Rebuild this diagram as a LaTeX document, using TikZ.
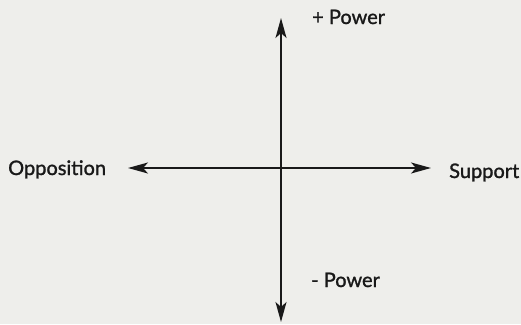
\documentclass[tikz,border=0pt]{standalone}
\usepackage{fontspec}
\setmainfont{Lato}
\newfontfamily\lblfont{Lato}[FakeBold=1.3]
\usetikzlibrary{arrows.meta}
\definecolor{bg}{RGB}{238,238,235}
\definecolor{ink}{RGB}{25,25,25}
\begin{document}
\begin{tikzpicture}[x=1pt,y=-1pt,
  axis/.style={draw=ink,line width=1.8pt,{Stealth[length=20pt,width=11pt,inset=5pt]}-{Stealth[length=20pt,width=11pt,inset=5pt]}},
  lbl/.style={inner sep=0pt,anchor=base west,text=ink,font=\lblfont\fontsize{20}{24}\selectfont}]
\fill[bg] (0,0) rectangle (521,324);
\useasboundingbox (0,0) rectangle (521,324);
\coordinate (top) at (281,18);
\coordinate (bot) at (281,322);
\coordinate (lft) at (128,168);
\coordinate (rgt) at (431,168);
\draw[axis] (lft) -- (rgt);
\draw[axis] (top) -- (bot);
\node[lbl] (pp) at (312,24) {+ Power};
\node[lbl] (mp) at (311,287) {- Power};
\node[lbl] (opp) at (8,175) {Opposition};
\node[lbl] (sup) at (449,178) {Support};
\end{tikzpicture}
\end{document}
